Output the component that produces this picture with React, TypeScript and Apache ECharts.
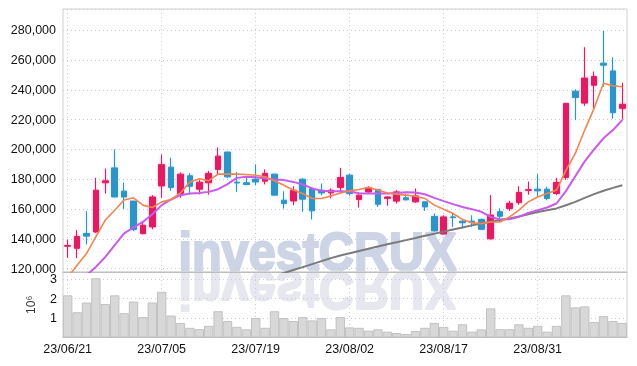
import React, { useEffect, useRef } from 'react';
import * as echarts from 'echarts';

const dates = [
  '23/06/21', '23/06/22', '23/06/23', '23/06/26', '23/06/27', '23/06/28', '23/06/29', '23/06/30',
  '23/07/03', '23/07/04', '23/07/05', '23/07/06', '23/07/07', '23/07/10', '23/07/11', '23/07/12',
  '23/07/13', '23/07/14', '23/07/17', '23/07/18', '23/07/19', '23/07/20', '23/07/21', '23/07/24',
  '23/07/25', '23/07/26', '23/07/27', '23/07/28', '23/07/31', '23/08/01', '23/08/02', '23/08/03',
  '23/08/04', '23/08/07', '23/08/08', '23/08/09', '23/08/10', '23/08/11', '23/08/14', '23/08/16',
  '23/08/17', '23/08/18', '23/08/21', '23/08/22', '23/08/23', '23/08/24', '23/08/25', '23/08/28',
  '23/08/29', '23/08/30', '23/08/31', '23/09/01', '23/09/04', '23/09/05', '23/09/06', '23/09/07',
  '23/09/08', '23/09/11', '23/09/12', '23/09/13',
];

const opens = [
  135000, 133600, 143500, 144600, 177600, 187600, 172000, 165300, 143500, 148000,
  175500, 188100, 170400, 182300, 173300, 177600, 186600, 198200, 178000, 177600,
  180000, 178700, 183400, 165900, 165400, 180000, 173800, 172600, 170800, 174500,
  182700, 166400, 171500, 173100, 167100, 165300, 167500, 164800, 164800, 155000,
  143200, 154700, 151800, 151800, 153000, 140000, 158200, 160300, 164300, 172500,
  173300, 173300, 170400, 181200, 239100, 231100, 243100, 257900, 252700, 227600,
];
const closes = [
  135500, 141500, 141800, 172600, 178900, 168100, 168100, 146300, 149100, 168100,
  189800, 174500, 183400, 175300, 178000, 183900, 195500, 181600, 177500, 176500,
  178200, 183900, 169300, 163700, 172600, 166600, 158800, 170800, 172600, 181200,
  170400, 169300, 174200, 163200, 168100, 171500, 166200, 168800, 161400, 145300,
  154700, 154300, 150800, 151100, 146400, 155900, 155100, 163800, 171100, 173000,
  172200, 167100, 177800, 230900, 234900, 247900, 249000, 256600, 224700, 230300,
];
const lows = [
  127200, 127000, 136200, 144000, 170400, 168000, 160100, 145200, 143000, 146400,
  167500, 172200, 167500, 169800, 169800, 169600, 182700, 181000, 171500, 176000,
  176000, 176500, 169300, 160300, 162600, 158100, 153000, 169300, 167100, 170400,
  169000, 161000, 171000, 161400, 162200, 163700, 165800, 164100, 158700, 145000,
  142900, 148000, 147000, 148000, 146000, 139500, 151300, 158700, 162900, 169600,
  168100, 166000, 169300, 179600, 219700, 229300, 227600, 242100, 220700, 220100,
];
const highs = [
  139500, 145800, 158500, 180900, 187200, 200000, 177800, 165300, 152000, 169300,
  196600, 194400, 184500, 184000, 179400, 185600, 201300, 198500, 184800, 181600,
  189900, 186600, 183400, 171900, 175300, 180500, 174500, 177100, 173800, 187600,
  183400, 169800, 175300, 173500, 168500, 172600, 169800, 173800, 165000, 157000,
  155800, 157000, 152500, 155800, 153600, 169300, 160400, 165500, 175300, 178400,
  183400, 174900, 180900, 231000, 240300, 268600, 252300, 279600, 261800, 244800,
];

const ma5 = [
  114000, 122200, 130100, 141400, 152600, 159200, 166000, 167500, 162600, 161000,
  164800, 166400, 170800, 178200, 180300, 179000, 183400, 183400, 183400, 183200,
  182700, 181600, 179000, 176000, 172700, 170400, 167100, 167100, 168800, 170800,
  172200, 173100, 174500, 172700, 170800, 170000, 169300, 168600, 167100, 162600,
  159900, 157000, 153000, 150700, 150200, 151300, 151300, 154700, 159200, 164800,
  168100, 170400, 172700, 186000, 197300, 213000, 227600, 244400, 242800, 242100,
];
const ma10 = [
  null, null, 115500, 121100, 127800, 135700, 143600, 147600, 151300, 156500,
  162600, 166400, 169300, 170400, 170800, 171500, 173300, 176700, 180900, 181600,
  181400, 180500, 179800, 179400, 178200, 176500, 173800, 172200, 172000, 172000,
  171800, 170600, 170400, 170400, 170400, 170800, 171300, 171100, 169900, 167500,
  165300, 163300, 161400, 159900, 158100, 154700, 152900, 153100, 154700, 157400,
  159200, 161000, 163700, 172000, 182000, 192000, 200000, 207500, 213000, 219800,
];
const maLong = [
  null, null, null, null, null, null, null, null, null, null,
  null, null, null, null, null, null, null, null, null, null,
  111000, 113000, 115000, 117000, 119000, 121000, 123000, 125000, 127000, 128800,
  130300, 131800, 133300, 134800, 136300, 137700, 139100, 140500, 142000, 143400,
  144800, 146200, 147600, 149000, 150300, 151500, 152600, 153600, 155000, 156500,
  158000, 159200, 160400, 162500, 164800, 167500, 170000, 172300, 174200, 176000,
];

const volumes = [
  2.17, 1.30, 1.80, 3.05, 1.72, 2.17, 1.25, 1.85, 1.05, 1.80,
  2.35, 1.13, 0.75, 0.50, 0.43, 0.60, 1.35, 0.85, 0.55, 0.42,
  1.00, 0.50, 1.35, 1.00, 0.85, 1.05, 0.88, 1.00, 0.42, 1.05,
  0.52, 0.50, 0.35, 0.42, 0.30, 0.23, 0.18, 0.33, 0.50, 0.75,
  0.55, 0.35, 0.68, 0.30, 0.42, 1.50, 0.43, 0.43, 0.68, 0.50,
  0.60, 0.30, 0.60, 2.17, 1.55, 1.60, 0.80, 1.10, 0.85, 0.75,
].map((v) => v * 1e6);

const UP = '#e21e63';
const DOWN = '#2e94c8';
const FONT = 'Liberation Sans';

export default function App() {
  const ref = useRef<HTMLDivElement>(null);
  useEffect(() => {
    const chart = echarts.init(ref.current as HTMLDivElement, null, { renderer: 'svg' });
    const labelEvery = (idx: number) => idx % 10 === 0;
    const dotted = { color: '#c9c9d8', width: 1, type: [1, 3] as any };
    const candles = opens.map((o, i) => ({
      value: [o, closes[i], lows[i], highs[i]],
      itemStyle: {
        shadowBlur: 3,
        shadowColor: closes[i] >= o ? 'rgba(226,30,99,0.35)' : 'rgba(46,148,200,0.35)',
      },
    }));
    const wmStyle = {
      text: 'investCRUX', fontSize: 54, fontWeight: 'bold', fontFamily: FONT,
      textAlign: 'center', textVerticalAlign: 'middle', lineWidth: 2.2,
    };
    chart.setOption({
      animation: false,
      grid: [
        { left: 63, right: 10, top: 9, height: 263, show: true, borderColor: '#d0d0d0', borderWidth: 1 },
        { left: 63, right: 10, top: 272, height: 65.5, show: true, borderColor: '#d0d0d0', borderWidth: 1 },
      ],
      xAxis: [
        {
          type: 'category', gridIndex: 0, data: dates, boundaryGap: true,
          axisLine: { show: true, lineStyle: { color: '#bdbdbd' } },
          axisTick: { show: false }, axisLabel: { show: false },
          splitLine: { show: true, interval: labelEvery, alignWithLabel: true, lineStyle: dotted },
        },
        {
          type: 'category', gridIndex: 1, data: dates, boundaryGap: true,
          axisLine: { show: true, lineStyle: { color: '#bdbdbd' } },
          axisTick: { show: false },
          axisLabel: { interval: labelEvery, color: '#111', fontSize: 12.5, fontFamily: FONT, margin: 5 },
          splitLine: { show: true, interval: labelEvery, alignWithLabel: true, lineStyle: dotted },
        },
      ],
      yAxis: [
        {
          type: 'value', gridIndex: 0, min: 117700, max: 294300, splitNumber: 9, scale: true,
          axisLine: { show: false }, axisTick: { show: false },
          axisLabel: {
            color: '#111', fontSize: 12.5, fontFamily: FONT, margin: 7,
            showMinLabel: false, showMaxLabel: false,
            formatter: (v: number) => (Math.round(v) % 20000 === 0 ? Math.round(v).toLocaleString('en-US') : ''),
          },
          splitLine: { show: true, lineStyle: dotted },
        },
        {
          type: 'value', gridIndex: 1, min: 0, max: 3370000, interval: 1000000,
          axisLine: { show: false }, axisTick: { show: false },
          name: '10\u2076', nameLocation: 'middle', nameGap: 26, nameRotate: 90,
          nameTextStyle: { color: '#333', fontSize: 12, fontFamily: FONT },
          axisLabel: {
            color: '#111', fontSize: 12.5, fontFamily: FONT, margin: 6,
            showMinLabel: false, showMaxLabel: false,
            formatter: (v: number) => (v > 0 && Math.round(v) % 1000000 === 0 ? String(Math.round(v / 1e6)) : ''),
          },
          splitLine: { show: true, lineStyle: dotted },
        },
      ],
      graphic: [
        {
          type: 'text', x: 317.5, y: 251.5, scaleX: 0.9, z: -10, silent: true,
          style: { ...wmStyle, fill: '#cdd4e6', stroke: '#cdd4e6' },
        },
        {
          type: 'text', x: 317.5, y: 291, scaleX: 0.9, scaleY: -1, z: -10, silent: true,
          style: { ...wmStyle, fill: '#e7e8ef', stroke: '#e7e8ef' },
        },
      ],
      series: [
        {
          type: 'candlestick', xAxisIndex: 0, yAxisIndex: 0, data: candles, barWidth: 6,
          itemStyle: { color: UP, color0: DOWN, borderColor: UP, borderColor0: DOWN, borderWidth: 1 },
        },
        {
          type: 'line', xAxisIndex: 0, yAxisIndex: 0, data: maLong, showSymbol: false, symbol: 'none',
          lineStyle: { color: '#7b7b7b', width: 2 }, z: 3,
        },
        {
          type: 'line', xAxisIndex: 0, yAxisIndex: 0, data: ma10, showSymbol: false, symbol: 'none',
          lineStyle: { color: '#c95be9', width: 2 }, z: 3,
        },
        {
          type: 'line', xAxisIndex: 0, yAxisIndex: 0, data: ma5, showSymbol: false, symbol: 'none',
          lineStyle: { color: '#f08550', width: 1.6 }, z: 4,
        },
        {
          type: 'bar', xAxisIndex: 1, yAxisIndex: 1, data: volumes, barCategoryGap: '0%',
          itemStyle: { color: '#d8d8d8', borderColor: '#c2c2c2', borderWidth: 1 },
        },
      ],
    });
    return () => chart.dispose();
  }, []);
  return <div ref={ref} style={{ position: 'fixed', left: 0, top: 0, width: 637, height: 366 }} />;
}
